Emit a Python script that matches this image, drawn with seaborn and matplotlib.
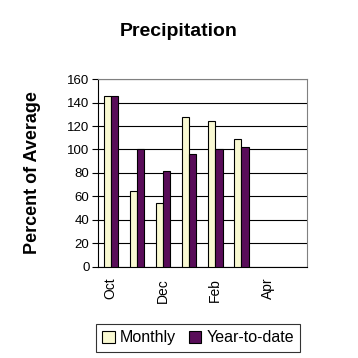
import matplotlib
matplotlib.use("Agg")
import matplotlib.pyplot as plt
import numpy as np
import pandas as pd
import seaborn as sns

months = ["Oct", "Nov", "Dec", "Jan", "Feb", "Mar", "Apr", "May"]
monthly = [146, 65, 54, 128, 124, 109, np.nan, np.nan]
ytd = [146, 100, 82, 96, 100, 102, np.nan, np.nan]
shown_labels = ["Oct", "", "Dec", "", "Feb", "", "Apr", ""]
yticks = [0, 20, 40, 60, 80, 100, 120, 140, 160]

df = pd.DataFrame({
    "month": months * 2,
    "value": monthly + ytd,
    "series": ["Monthly"] * len(months) + ["Year-to-date"] * len(months),
})

sns.set_style("white")
plt.rcParams["font.family"] = ["Liberation Sans", "DejaVu Sans"]
plt.rcParams.update({"text.color": "black", "axes.labelcolor": "black",
                     "xtick.color": "black", "ytick.color": "black"})

fig = plt.figure(figsize=(3.58, 3.58), dpi=100)
ax = fig.add_axes([0.273, 0.255, 0.584, 0.524])

sns.barplot(data=df, x="month", y="value", hue="series", order=months,
            palette=["#FFFFCC", "#660066"], edgecolor="black", linewidth=0.8,
            width=0.55, errorbar=None, ax=ax, legend=True, zorder=3)

ax.set_xlim(-0.5, len(months) - 0.5)
ax.set_ylim(0, 160)
ax.set_yticks(yticks)
ax.set_yticklabels([str(v) for v in yticks], fontsize=9.5)
ax.yaxis.grid(True, color="black", linewidth=0.8, zorder=0)
ax.set_axisbelow(True)

ax.set_xticks(range(len(months)))
ax.set_xticklabels(shown_labels, rotation=90, fontsize=10)
ax.tick_params(axis="x", which="major", length=0, pad=8)
ax.set_xticks(np.arange(-0.5, len(months)), minor=True)
ax.tick_params(axis="x", which="minor", length=5, width=0.8, color="black", direction="out")
ax.tick_params(axis="y", length=4, width=0.8, color="black", direction="out", left=True, pad=2)

for side in ["top", "right"]:
    ax.spines[side].set_color("#808080")
    ax.spines[side].set_linewidth(0.8)
for side in ["left", "bottom"]:
    ax.spines[side].set_color("black")
    ax.spines[side].set_linewidth(0.8)

ax.set_xlabel("")
ax.set_ylabel("Percent of Average", fontsize=13, fontweight="bold", labelpad=19)
fig.suptitle("Precipitation", x=0.5, y=0.935, fontsize=14, fontweight="bold")

handles, labels = ax.get_legend_handles_labels()
ax.get_legend().remove()
leg = fig.legend(handles, labels, loc="center", bbox_to_anchor=(0.553, 0.056),
                 ncol=2, fontsize=11.5, frameon=True, fancybox=False,
                 edgecolor="black", handlelength=0.8, handleheight=0.8,
                 handletextpad=0.3, columnspacing=0.8, borderpad=0.4)
leg.get_frame().set_linewidth(0.8)

fig.savefig("out.png", dpi=100, facecolor="white")
